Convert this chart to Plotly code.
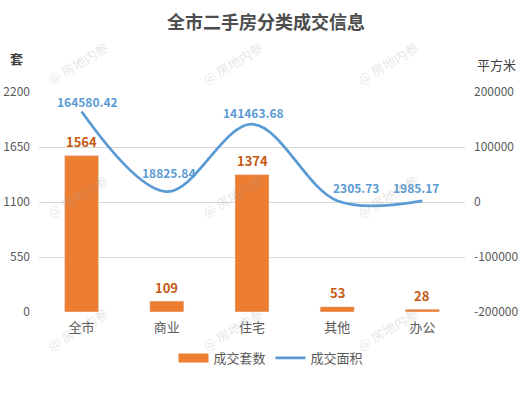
import plotly.graph_objects as go

categories = ["全市", "商业", "住宅", "其他", "办公"]
counts = [1564, 109, 1374, 53, 28]
areas = [164580.42, 18825.84, 141463.68, 2305.73, 1985.17]
area_labels = ["164580.42", "18825.84", "141463.68", "2305.73", "1985.17"]

left_ticks = [0, 550, 1100, 1650, 2200]
left_tick_text = ["0", "550", "1100", "1650", "2200"]
right_ticks = [-200000, -100000, 0, 100000, 200000]
right_tick_text = ["-200000", "-100000", "0", "100000", "200000"]

# label offsets (pixels) for the area labels
area_xshift = [6, 2, 1, 19, -6]
area_yshift = [10, 19, 12, 13, 13]

FONT = "Noto Sans CJK SC, Noto Sans, sans-serif"
ORANGE = "#ED7D31"
BLUE = "#5B9BD5"
GREY = "#595959"

W, H = 525, 393
PL, PR, PT, PB = 39, 465, 92, 312  # plot area in pixels


def px(x):
    return (x - PL) / (PR - PL)


def py(y):
    return (PB - y) / (PB - PT)


fig = go.Figure()
fig.add_trace(go.Bar(x=categories, y=counts, marker_color=ORANGE, width=0.4,
                     showlegend=False, hoverinfo="skip"))
fig.add_trace(go.Scatter(x=categories, y=areas, yaxis="y2", mode="lines",
                         line=dict(color=BLUE, width=2.75, shape="spline", smoothing=1.0),
                         showlegend=False, hoverinfo="skip"))
# legend entries
fig.add_trace(go.Scatter(x=[None], y=[None], mode="lines", name="成交套数",
                         line=dict(color=ORANGE, width=9)))
fig.add_trace(go.Scatter(x=[None], y=[None], mode="lines", name="成交面积",
                         line=dict(color=BLUE, width=2.75)))

annotations = []
for c, v in zip(categories, counts):
    annotations.append(dict(x=c, y=v, xref="x", yref="y", text=f"<b>{v}</b>",
                            showarrow=False, yshift=14, yanchor="middle",
                            font=dict(family=FONT, size=13, color="#C55A11")))
for c, v, t, dx, dy in zip(categories, areas, area_labels, area_xshift, area_yshift):
    annotations.append(dict(x=c, y=v, xref="x", yref="y2", text=f"<b>{t}</b>",
                            showarrow=False, xshift=dx, yshift=dy, yanchor="middle",
                            font=dict(family=FONT, size=12, color=BLUE)))

# axis titles
annotations.append(dict(x=px(16.5), y=py(58.5), xref="paper", yref="paper",
                        text="<b>套</b>", showarrow=False, xanchor="center", yanchor="middle",
                        font=dict(family=FONT, size=13, color="#404040")))
annotations.append(dict(x=px(496), y=py(64), xref="paper", yref="paper",
                        text="平方米", showarrow=False, xanchor="center", yanchor="middle",
                        font=dict(family=FONT, size=13, color="#404040")))

# watermarks
for wy in [63, 196, 329]:
    for wx in [77, 232, 387]:
        annotations.append(dict(x=px(wx), y=py(wy), xref="paper", yref="paper",
                                text="@ 房地内参", showarrow=False, textangle=-31,
                                xanchor="center", yanchor="middle",
                                font=dict(family=FONT, size=13, color="rgba(160,160,160,0.28)")))

fig.update_layout(
    width=W, height=H,
    margin=dict(l=PL, r=W - PR, t=PT, b=H - PB, autoexpand=False),
    paper_bgcolor="white", plot_bgcolor="white",
    font=dict(family=FONT, color=GREY),
    title=dict(text="<b>全市二手房分类成交信息</b>", x=266 / W, xanchor="center",
               y=1 - 23 / H, yanchor="middle",
               font=dict(family=FONT, size=18, color="#4D4D4D")),
    xaxis=dict(type="category", range=[-0.5, 4.5], showgrid=False, zeroline=False,
               showline=False, ticks="", ticklabelstandoff=6, automargin=False,
               tickfont=dict(family=FONT, size=13, color=GREY)),
    yaxis=dict(range=[0, 2200], tickvals=left_ticks, ticktext=left_tick_text,
               showgrid=True, gridcolor="#D9D9D9", gridwidth=1, zeroline=False,
               showline=False, ticks="", ticklabelstandoff=8, automargin=False,
               tickfont=dict(family=FONT, size=12, color=GREY)),
    yaxis2=dict(range=[-200000, 200000], tickvals=right_ticks, ticktext=right_tick_text,
                overlaying="y", side="right", showgrid=False, zeroline=False,
                showline=False, ticks="", ticklabelstandoff=8, automargin=False,
                tickfont=dict(family=FONT, size=12, color=GREY)),
    legend=dict(orientation="h", x=271 / W, xref="container", xanchor="center",
                y=1 - 358 / H, yref="container", yanchor="middle",
                font=dict(family=FONT, size=13, color=GREY), itemwidth=30),
    annotations=annotations,
    showlegend=True,
)

fig.write_html("out.html", config={"displayModeBar": False},
               post_script="document.body.style.margin='0';document.body.style.overflow='hidden';")
